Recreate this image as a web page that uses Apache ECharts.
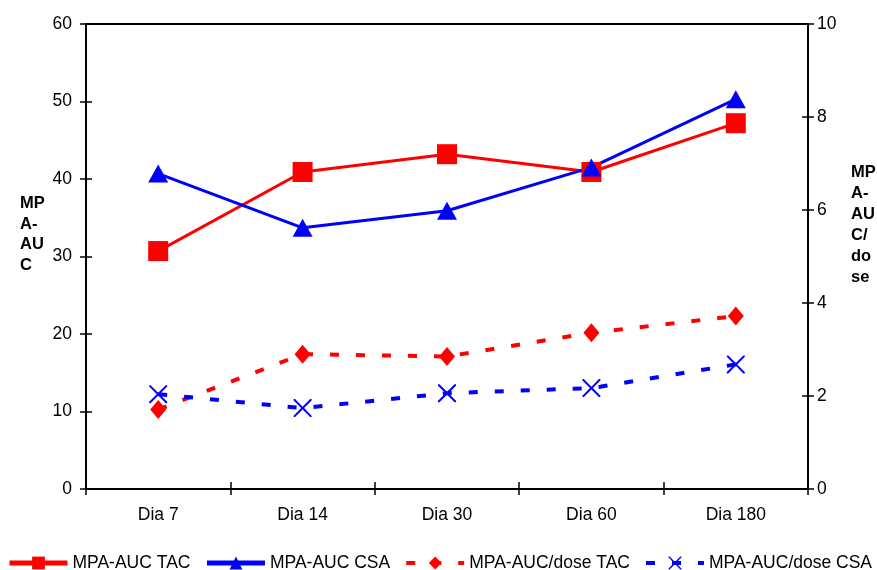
<!DOCTYPE html>
<html>
<head>
<meta charset="utf-8">
<script src="https://cdn.jsdelivr.net/npm/echarts@6/dist/echarts.min.js"></script>
<style>
  html, body { margin: 0; padding: 0; background: #fff; }
  #chart { width: 877px; height: 570px; }
</style>
</head>
<body>
<div id="chart"></div>
<script>
// Time points
const categories = ['Dia 7', 'Dia 14', 'Dia 30', 'Dia 60', 'Dia 180'];

// MPA-AUC (left axis)
const aucTac = [30.7, 40.9, 43.2, 40.9, 47.2];
const aucCsa = [40.7, 33.7, 35.9, 41.5, 50.3];

// MPA-AUC / dose (right axis)
const aucDoseTac = [1.71, 2.90, 2.85, 3.36, 3.72];
const aucDoseCsa = [2.04, 1.74, 2.06, 2.17, 2.68];

// Axis ranges
const leftAxis = { min: 0, max: 60, interval: 10 };
const rightAxis = { min: 0, max: 10, interval: 2 };

const FONT = '"Liberation Sans", Arial, Helvetica, sans-serif';
const RED = '#FF0000';
const BLUE = '#0000FF';
const DASH = [9, 17];
const XMARK = 'path://M0,0L8,0L50,42L92,0L100,0L100,8L58,50L100,92L100,100L92,100L50,58L8,100L0,100L0,92L42,50L0,8Z';

const chart = echarts.init(document.getElementById('chart'), null, { renderer: 'canvas' });

// The frame lines come from the grid border; each axis is shifted inward
// by half a tick so its ticks straddle the frame.
const tickStyle = { color: '#000', width: 1.5 };
const labelStyle = { color: '#000', fontFamily: FONT, fontSize: 17.5 };

chart.setOption({
  animation: false,
  backgroundColor: '#fff',
  grid: {
    left: 86, right: 69, top: 24, bottom: 81,
    show: true, borderColor: '#000', borderWidth: 2, backgroundColor: 'transparent'
  },
  xAxis: {
    type: 'category', data: categories, position: 'bottom', boundaryGap: true,
    offset: -7,
    axisLine: { show: false },
    axisTick: { show: true, length: 13, lineStyle: tickStyle },
    axisLabel: { ...labelStyle, margin: 24 },
    splitLine: { show: false }
  },
  yAxis: [
    {
      type: 'value', position: 'left', ...leftAxis,
      offset: -6,
      axisLine: { show: false },
      axisTick: { show: true, length: 12, lineStyle: tickStyle },
      axisLabel: { ...labelStyle, margin: 20 },
      splitLine: { show: false }
    },
    {
      type: 'value', position: 'right', ...rightAxis,
      offset: -6,
      axisLine: { show: false },
      axisTick: { show: true, length: 12, lineStyle: tickStyle },
      axisLabel: { ...labelStyle, margin: 15 },
      splitLine: { show: false }
    }
  ],
  legend: {
    left: 7, top: 554, width: 870, padding: 0,
    itemWidth: 58, itemHeight: 16, itemGap: 14,
    textStyle: { color: '#000', fontFamily: FONT, fontSize: 17.5, lineHeight: 16 },
    data: [
      { name: 'MPA-AUC TAC', lineStyle: { width: 5 } },
      { name: 'MPA-AUC CSA', lineStyle: { width: 5 } },
      { name: 'MPA-AUC/dose TAC', lineStyle: { width: 4 } },
      { name: 'MPA-AUC/dose CSA', lineStyle: { width: 4 } }
    ]
  },
  graphic: [
    {
      type: 'text', left: 20, top: 193,
      style: {
        text: 'MP\nA-\nAU\nC', fill: '#000',
        font: 'bold 16.5px ' + FONT, lineHeight: 20.7
      }
    },
    {
      type: 'text', left: 851, top: 162,
      style: {
        text: 'MP\nA-\nAU\nC/\ndo\nse', fill: '#000',
        font: 'bold 16.5px ' + FONT, lineHeight: 21
      }
    }
  ],
  series: [
    {
      name: 'MPA-AUC/dose TAC', type: 'line', yAxisIndex: 1, data: aucDoseTac,
      symbol: 'diamond', symbolSize: [16, 19],
      itemStyle: { color: RED },
      lineStyle: { color: RED, width: 4, type: DASH }
    },
    {
      name: 'MPA-AUC/dose CSA', type: 'line', yAxisIndex: 1, data: aucDoseCsa,
      symbol: XMARK, symbolSize: 18, symbolKeepAspect: true,
      itemStyle: { color: BLUE },
      lineStyle: { color: BLUE, width: 4, type: DASH }
    },
    {
      name: 'MPA-AUC TAC', type: 'line', yAxisIndex: 0, data: aucTac,
      symbol: 'rect', symbolSize: 20,
      itemStyle: { color: RED },
      lineStyle: { color: RED, width: 3 }
    },
    {
      name: 'MPA-AUC CSA', type: 'line', yAxisIndex: 0, data: aucCsa,
      symbol: 'triangle', symbolSize: [20, 18],
      itemStyle: { color: BLUE },
      lineStyle: { color: BLUE, width: 3 }
    }
  ]
});
</script>
</body>
</html>
